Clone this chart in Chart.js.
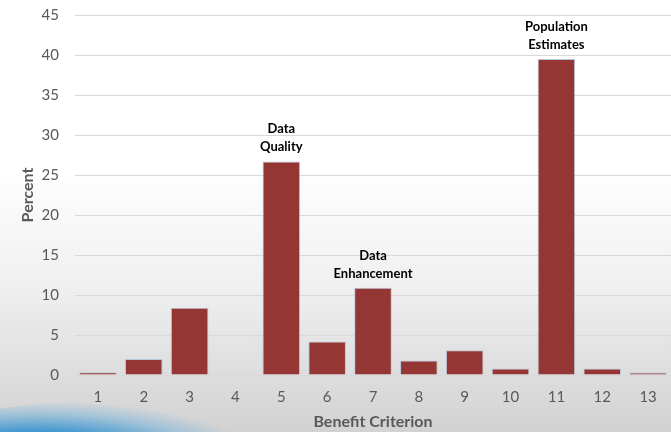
<!DOCTYPE html>
<html>
<head>
<meta charset="utf-8">
<script src="https://cdn.jsdelivr.net/npm/chart.js@4/dist/chart.umd.min.js"></script>
<style>
  html, body { margin:0; padding:0; }
  body {
    width:671px; height:432px; overflow:hidden; position:relative;
    background: linear-gradient(to bottom, #ffffff 0px, #ffffff 170px, #efefef 290px, #dcdcdc 380px, #d2d2d2 432px);
  }
  #swoosh {
    position:absolute; left:-80px; top:402px; width:330px; height:90px;
    background: radial-gradient(ellipse at 35% 60%, #1f7fc4 0%, #3a94cf 30%, rgba(120,180,220,0.55) 55%, rgba(200,215,225,0) 72%);
    border-radius: 50%;
  }
  #wrap { position:absolute; left:0; top:0; width:671px; height:432px; }
</style>
</head>
<body>
<div id="swoosh"></div>
<div id="wrap"><canvas id="c" width="671" height="432"></canvas></div>
<script>
const categories = ['1','2','3','4','5','6','7','8','9','10','11','12','13'];
const percentValues = [0.35, 2.0, 8.4, 0, 26.7, 4.2, 10.9, 1.8, 3.1, 0.8, 39.5, 0.8, 0.3];
const barLabels = [null, null, null, null, ['Data','Quality'], null, ['Data','Enhancement'], null, null, null, ['Population','Estimates'], null, null];
const yTitle = 'Percent';
const xTitle = 'Benefit Criterion';

const FONT = 'Lato, "Open Sans", sans-serif';

const labelPlugin = {
  id: 'barLabels',
  afterDatasetsDraw(chart) {
    const ctx = chart.ctx;
    const meta = chart.getDatasetMeta(0);
    ctx.save();
    ctx.font = 'bold 13px ' + FONT;
    ctx.fillStyle = '#000000';
    ctx.textAlign = 'center';
    ctx.textBaseline = 'alphabetic';
    barLabels.forEach((lines, i) => {
      if (!lines) return;
      const el = meta.data[i];
      const lh = 18;
      let y = el.y - 10;
      for (let k = lines.length - 1; k >= 0; k--) {
        ctx.fillText(lines[k], el.x, y);
        y -= lh;
      }
    });
    ctx.restore();
  }
};

new Chart(document.getElementById('c'), {
  type: 'bar',
  data: {
    labels: categories,
    datasets: [{
      data: percentValues,
      backgroundColor: '#943634',
      borderColor: '#b9c5da',
      borderWidth: 1,
      categoryPercentage: 1.0,
      barPercentage: 0.82
    }]
  },
  options: {
    responsive: false,
    animation: false,
    layout: { padding: { top: 15, right: 0, left: 0, bottom: 0 } },
    plugins: { legend: { display: false }, tooltip: { enabled: false } },
    scales: {
      y: {
        min: 0, max: 45,
        ticks: { stepSize: 5, color: '#595959', font: { family: FONT, size: 15 }, padding: 16 },
        grid: { color: '#d9d9d9', drawTicks: false, lineWidth: 1 },
        border: { display: false },
        title: { display: true, text: yTitle, color: '#595959', font: { family: FONT, size: 16, weight: 'bold' }, padding: { top: 18, bottom: 0 } },
        afterFit(scale) { scale.width = 75; scale.paddingTop = 0; scale.paddingBottom = 0; }
      },
      x: {
        ticks: { color: '#595959', font: { family: FONT, size: 15 }, padding: 13 },
        grid: { display: false, drawTicks: false },
        border: { display: true, color: '#d9d9d9' },
        title: { display: true, text: xTitle, color: '#595959', font: { family: FONT, size: 16, weight: 'bold' }, padding: { top: 0, bottom: 1 } },
        afterFit(scale) { scale.height = 57; }
      }
    }
  },
  plugins: [labelPlugin]
});
</script>
</body>
</html>
